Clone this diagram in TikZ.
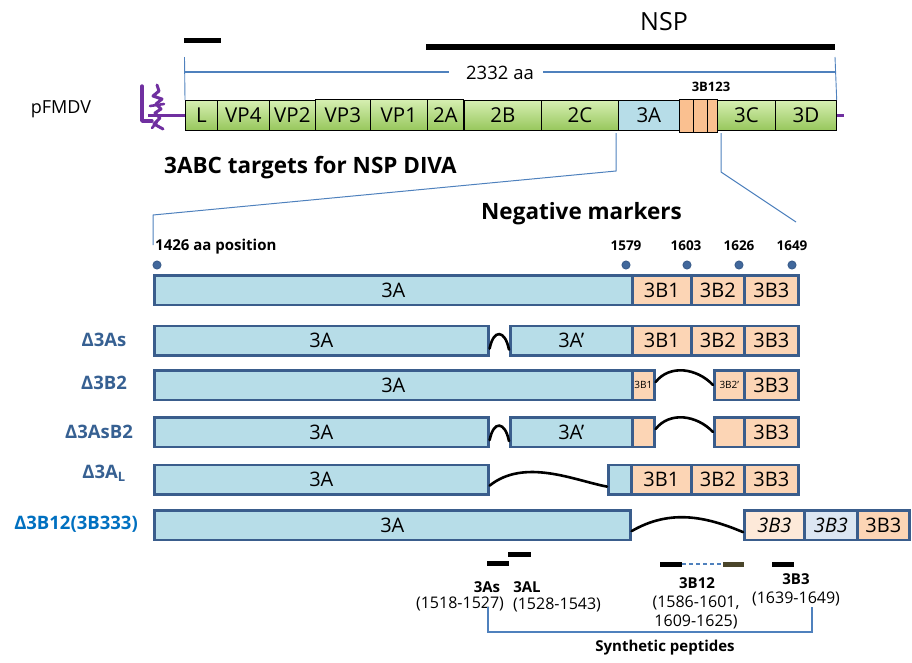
\documentclass[tikz,border=0pt]{standalone}
\usepackage{fontspec}
\setmainfont{Open Sans}
\usetikzlibrary{calc}
\definecolor{segb}{HTML}{3A5D8C}
\definecolor{bluef}{HTML}{B7DDE8}
\definecolor{peach}{HTML}{FCD5B5}
\definecolor{peachl}{HTML}{FDE9D9}
\definecolor{greyb}{HTML}{DCE6F2}
\definecolor{orangeg}{HTML}{FAC090}
\definecolor{lbl}{HTML}{366092}
\definecolor{lbltwo}{HTML}{0070C0}
\definecolor{thinb}{HTML}{4F81BD}
\definecolor{purp}{HTML}{7030A0}
\definecolor{dotc}{HTML}{41689C}
\definecolor{olivec}{HTML}{4A452A}
\definecolor{gtop}{HTML}{D6EFB2}
\definecolor{gbot}{HTML}{97C75C}
\tikzset{
  gbox/.style={draw=black, line width=0.7pt, top color=gtop, bottom color=gbot,
    minimum height=30pt, inner sep=0pt, anchor=north west, font=\fontsize{20.5}{20.5}\selectfont},
  obox/.style={draw=black, line width=0.7pt, fill=orangeg, minimum height=33pt,
    inner sep=0pt, anchor=north west},
  seg/.style={draw=segb, line width=2.6pt, minimum height=29.5pt, inner sep=0pt,
    anchor=north west, font=\fontsize{20}{20}\selectfont},
  sa/.style={seg, fill=bluef},
  sb/.style={seg, fill=peach},
  wave/.style={line width=2.6pt, line cap=round},
  dotn/.style={circle, fill=dotc, draw=segb, line width=1pt, inner sep=0pt, minimum size=8pt},
  posn/.style={font=\bfseries\fontsize{13.5}{13.5}\selectfont, inner sep=0pt},
  rowlbl/.style={font=\bfseries\fontsize{18.5}{18.5}\selectfont, text=lbl, inner sep=0pt},
  head/.style={font=\bfseries\fontsize{22.5}{22.5}\selectfont, inner sep=0pt},
  thin/.style={draw=thinb, line width=1pt},
  pbar/.style={line width=5pt},
  pname/.style={font=\bfseries\fontsize{15}{15}\selectfont, inner sep=0pt},
  prange/.style={font=\fontsize{16}{16}\selectfont, inner sep=0pt},
}
\begin{document}
\begin{tikzpicture}[x=1pt,y=-1pt]
\useasboundingbox (0,0) rectangle (912,662);

% ---------- top bars ----------
\coordinate (sb1) at (184,40.5); \coordinate (sb2) at (221,40.5);
\draw[pbar] (sb1) -- (sb2);
\coordinate (nb1) at (426,47); \coordinate (nb2) at (835,47);
\draw[line width=6pt] (nb1) -- (nb2);
\node[font=\fontsize{25}{25}\selectfont, inner sep=0pt] (nsp) at (664,22) {NSP};

% ---------- 2332 aa ----------
\node[font=\fontsize{18.5}{18.5}\selectfont, inner sep=0pt] (aa) at (500,73) {2332 aa};
\coordinate (tkL) at (184.5,57); \coordinate (tkR) at (835,57);
\draw[thinb, line width=1.6pt] (184.5,72) -- ($(aa.west)+(-17,-1)$);
\draw[thinb, line width=1.6pt] ($(aa.east)+(9,-1)$) -- (835,72);

% ---------- purple backbone ----------
\draw[purp, line width=3pt] (148,115) -- (844,115);
\draw[purp, line width=3.4pt, line cap=round, line join=round] (142,86) -- (142,121) -- (152,121);
\draw[purp, line width=3pt, line cap=round, line join=round]
  (157,85) -- (159,91) -- (153,96) -- (162,99) -- (156,104) -- (161,109) -- (155,113) -- (160,118) -- (154,124) -- (163,129);
\draw[purp, line width=2.6pt, line cap=round] (150,106) -- (164,104);
\draw[purp, line width=2.6pt, line cap=round] (152,128) -- (157,122);

% ---------- genome boxes ----------
\node[gbox, minimum width=32pt] (gL) at (185,100) {L};
\node[gbox, minimum width=52pt] (gVP4) at (217,100) {VP4};
\node[gbox, minimum width=46pt] (gVP2) at (269,100) {VP2};
\node[gbox, minimum width=55pt, minimum height=31pt] (gVP3) at (315,99) {VP3};
\node[gbox, minimum width=57pt, minimum height=31pt] (gVP1) at (370,99) {VP1};
\node[gbox, minimum width=36pt, minimum height=31pt] (g2A) at (427,99) {2A};
\node[gbox, minimum width=77pt] (g2B) at (464,100) {2B};
\node[gbox, minimum width=77pt] (g2C) at (541,100) {2C};
\node[gbox, fill=bluef, top color=bluef, bottom color=bluef, minimum width=61pt] (g3A) at (618,100) {3A};
\node[obox, minimum width=14pt] (gB1) at (679,98.5) {};
\node[obox, minimum width=14pt] (gB2) at (693,98.5) {};
\node[obox, minimum width=10pt] (gB3) at (707,98.5) {};
\node[gbox, minimum width=58pt] (g3C) at (717,100) {3C};
\node[gbox, minimum width=61pt] (g3D) at (775,100) {3D};
\node[font=\bfseries\fontsize{13}{13}\selectfont, inner sep=0pt] (b123) at (711,87) {3B123};
\node[font=\fontsize{18}{18}\selectfont, inner sep=0pt] (pf) at (61,109) {pFMDV};
\draw[thinb, line width=0.9pt] (tkL) -- (gL.north west);
\draw[thinb, line width=0.9pt] (tkR) -- (g3D.north east);

% ---------- headings ----------
\node[head, anchor=west] (h1) at (164,168) {3ABC targets for NSP DIVA};
\node[head, anchor=west] (h2) at (481,214) {Negative markers};

% ---------- zoom lines ----------
\coordinate (zl0) at (616,133); \coordinate (zl1) at (616,171);
\coordinate (zl2) at (153,215); \coordinate (zl3) at (153,245);
\draw[thin] (zl0) -- (zl1) -- (zl2) -- (zl3);
\coordinate (zr0) at (721,133); \coordinate (zr1) at (721,172); \coordinate (zr2) at (796,222);
\draw[thin] (zr0) -- (zr1) -- (zr2);

% ---------- positions ----------
\node[posn, anchor=west, font=\bfseries\fontsize{15}{15}\selectfont] (p1426) at (155,247) {1426 aa position};
\node[posn] (p1579) at (626,246) {1579};
\node[posn] (p1603) at (686,246) {1603};
\node[posn] (p1626) at (739,246) {1626};
\node[posn] (p1649) at (792,246) {1649};
\node[dotn] (d0) at (157,265) {};
\node[dotn] (d1) at (626,265) {};
\node[dotn] (d2) at (687,265) {};
\node[dotn] (d3) at (739,265) {};
\node[dotn] (d4) at (792,265) {};

% ---------- row 0 ----------
\node[sa, minimum width=478pt] (r0a) at (153,274) {3A};
\node[sb, minimum width=59pt] (r0b) at (631,274) {3B1};
\node[sb, minimum width=53pt] (r0c) at (690,274) {3B2};
\node[sb, minimum width=54pt] (r0d) at (743,274) {3B3};

% ---------- row 1 : Δ3As ----------
\node[rowlbl] (l1) at (104,340) {Δ3As};
\node[sa, minimum width=334pt] (r1a) at (153,324.5) {3A};
\node[sa, minimum width=122pt] (r1b) at (509,324.5) {3A’};
\node[sb, minimum width=59pt] (r1c) at (631,324.5) {3B1};
\node[sb, minimum width=53pt] (r1d) at (690,324.5) {3B2};
\node[sb, minimum width=54pt] (r1e) at (743,324.5) {3B3};
\draw[wave] ($(r1a.south east)+(0,-8)$) .. controls +(4,-20) and +(-4,-20) .. ($(r1b.south west)+(0,-7)$);

% ---------- row 2 : Δ3B2 ----------
\node[rowlbl] (l2) at (104,383) {Δ3B2};
\node[sa, minimum width=478pt] (r2a) at (153,369) {3A};
\node[sb, minimum width=22pt, font=\fontsize{10}{10}\selectfont] (r2b) at (631,369) {3B1};
\node[sb, minimum width=30pt, font=\fontsize{10}{10}\selectfont] (r2c) at (713,369) {3B2’};
\node[sb, minimum width=54pt] (r2d) at (743,369) {3B3};
\draw[wave] ($(r2b.east)+(0,-3)$) .. controls +(14,-18) and +(-16,-17) .. ($(r2c.west)+(0,0)$);

% ---------- row 3 : Δ3AsB2 ----------
\node[rowlbl] (l3) at (99,432) {Δ3AsB2};
\node[sa, minimum width=334pt] (r3a) at (153,416) {3A};
\node[sa, minimum width=122pt] (r3b) at (509,416) {3A’};
\node[sb, minimum width=22pt] (r3c) at (631,416) {};
\node[sb, minimum width=30pt] (r3d) at (713,416) {};
\node[sb, minimum width=54pt] (r3e) at (743,416) {3B3};
\draw[wave] ($(r3a.south east)+(0,-8)$) .. controls +(4,-20) and +(-4,-20) .. ($(r3b.south west)+(0,-7)$);
\draw[wave] ($(r3c.east)+(0,-3)$) .. controls +(14,-18) and +(-16,-17) .. ($(r3d.west)+(0,0)$);

% ---------- row 4 : Δ3AL ----------
\node[rowlbl] (l4) at (104,473) {Δ3A\textsubscript{L}};
\node[sa, minimum width=334pt] (r4a) at (153,463.5) {3A};
\node[sa, minimum width=23pt] (r4b) at (607,463.5) {};
\node[sb, minimum width=60pt] (r4c) at (630,463.5) {3B1};
\node[sb, minimum width=53pt] (r4d) at (690,463.5) {3B2};
\node[sb, minimum width=54pt] (r4e) at (743,463.5) {3B3};
\draw[wave] ($(r4a.south east)+(0,-10)$) .. controls +(35,-28) and +(-32,-6) .. ($(r4b.south west)+(0,-9)$);

% ---------- row 5 : Δ3B12(3B333) ----------
\node[rowlbl, text=lbltwo] (l5) at (76,524) {Δ3B12(3B333)};
\node[sa, minimum width=476pt] (r5a) at (153,509) {3A};
\node[seg, fill=peachl, font=\itshape\fontsize{20}{20}\selectfont, minimum width=60pt] (r5b) at (743,509) {3B3};
\node[seg, fill=greyb, font=\itshape\fontsize{20}{20}\selectfont, minimum width=53pt] (r5c) at (803,509) {3B3};
\node[sb, minimum width=52pt] (r5d) at (856,509) {3B3};
\draw[wave] ($(r5a.south east)+(0,-10)$) .. controls +(38,-22) and +(-38,-16) .. ($(r5b.south west)+(0,-9)$);

% ---------- peptides ----------
\coordinate (a1) at (487,563.5); \coordinate (a2) at (509,563.5);
\draw[pbar] (a1) -- (a2);
\coordinate (b1) at (508,554.5); \coordinate (b2) at (531,554.5);
\draw[pbar] (b1) -- (b2);
\coordinate (c1) at (660,564); \coordinate (c2) at (682,564);
\coordinate (c3) at (723,564); \coordinate (c4) at (744,564);
\draw[pbar] (c1) -- (c2);
\draw[thinb, line width=2pt, dash pattern=on 4pt off 3pt] (c2) -- (c3);
\draw[pbar, olivec] (c3) -- (c4);
\coordinate (e1) at (772,564); \coordinate (e2) at (794,564);
\draw[pbar] (e1) -- (e2);

\node[pname] (n3As) at (487,587) {3As};
\node[prange] (r3As) at (460,604) {(1518-1527)};
\node[pname] (n3AL) at (527,587) {3AL};
\node[prange] (r3AL) at (557,605) {(1528-1543)};
\node[pname] (n3B12) at (697,583) {3B12};
\node[prange] (r3B12a) at (696,603) {(1586-1601,};
\node[prange] (r3B12b) at (696,622) {1609-1625)};
\node[pname] (n3B3) at (796,579) {3B3};
\node[prange] (r3B3) at (796,599) {(1639-1649)};

\coordinate (k1) at (488,607); \coordinate (k2) at (488,632);
\coordinate (k3) at (812,632); \coordinate (k4) at (812,607);
\draw[thinb, line width=1.3pt] (k1) -- (k2) -- (k3) -- (k4);
\node[pname] (syn) at (665,648) {Synthetic peptides};
\end{tikzpicture}
\end{document}
